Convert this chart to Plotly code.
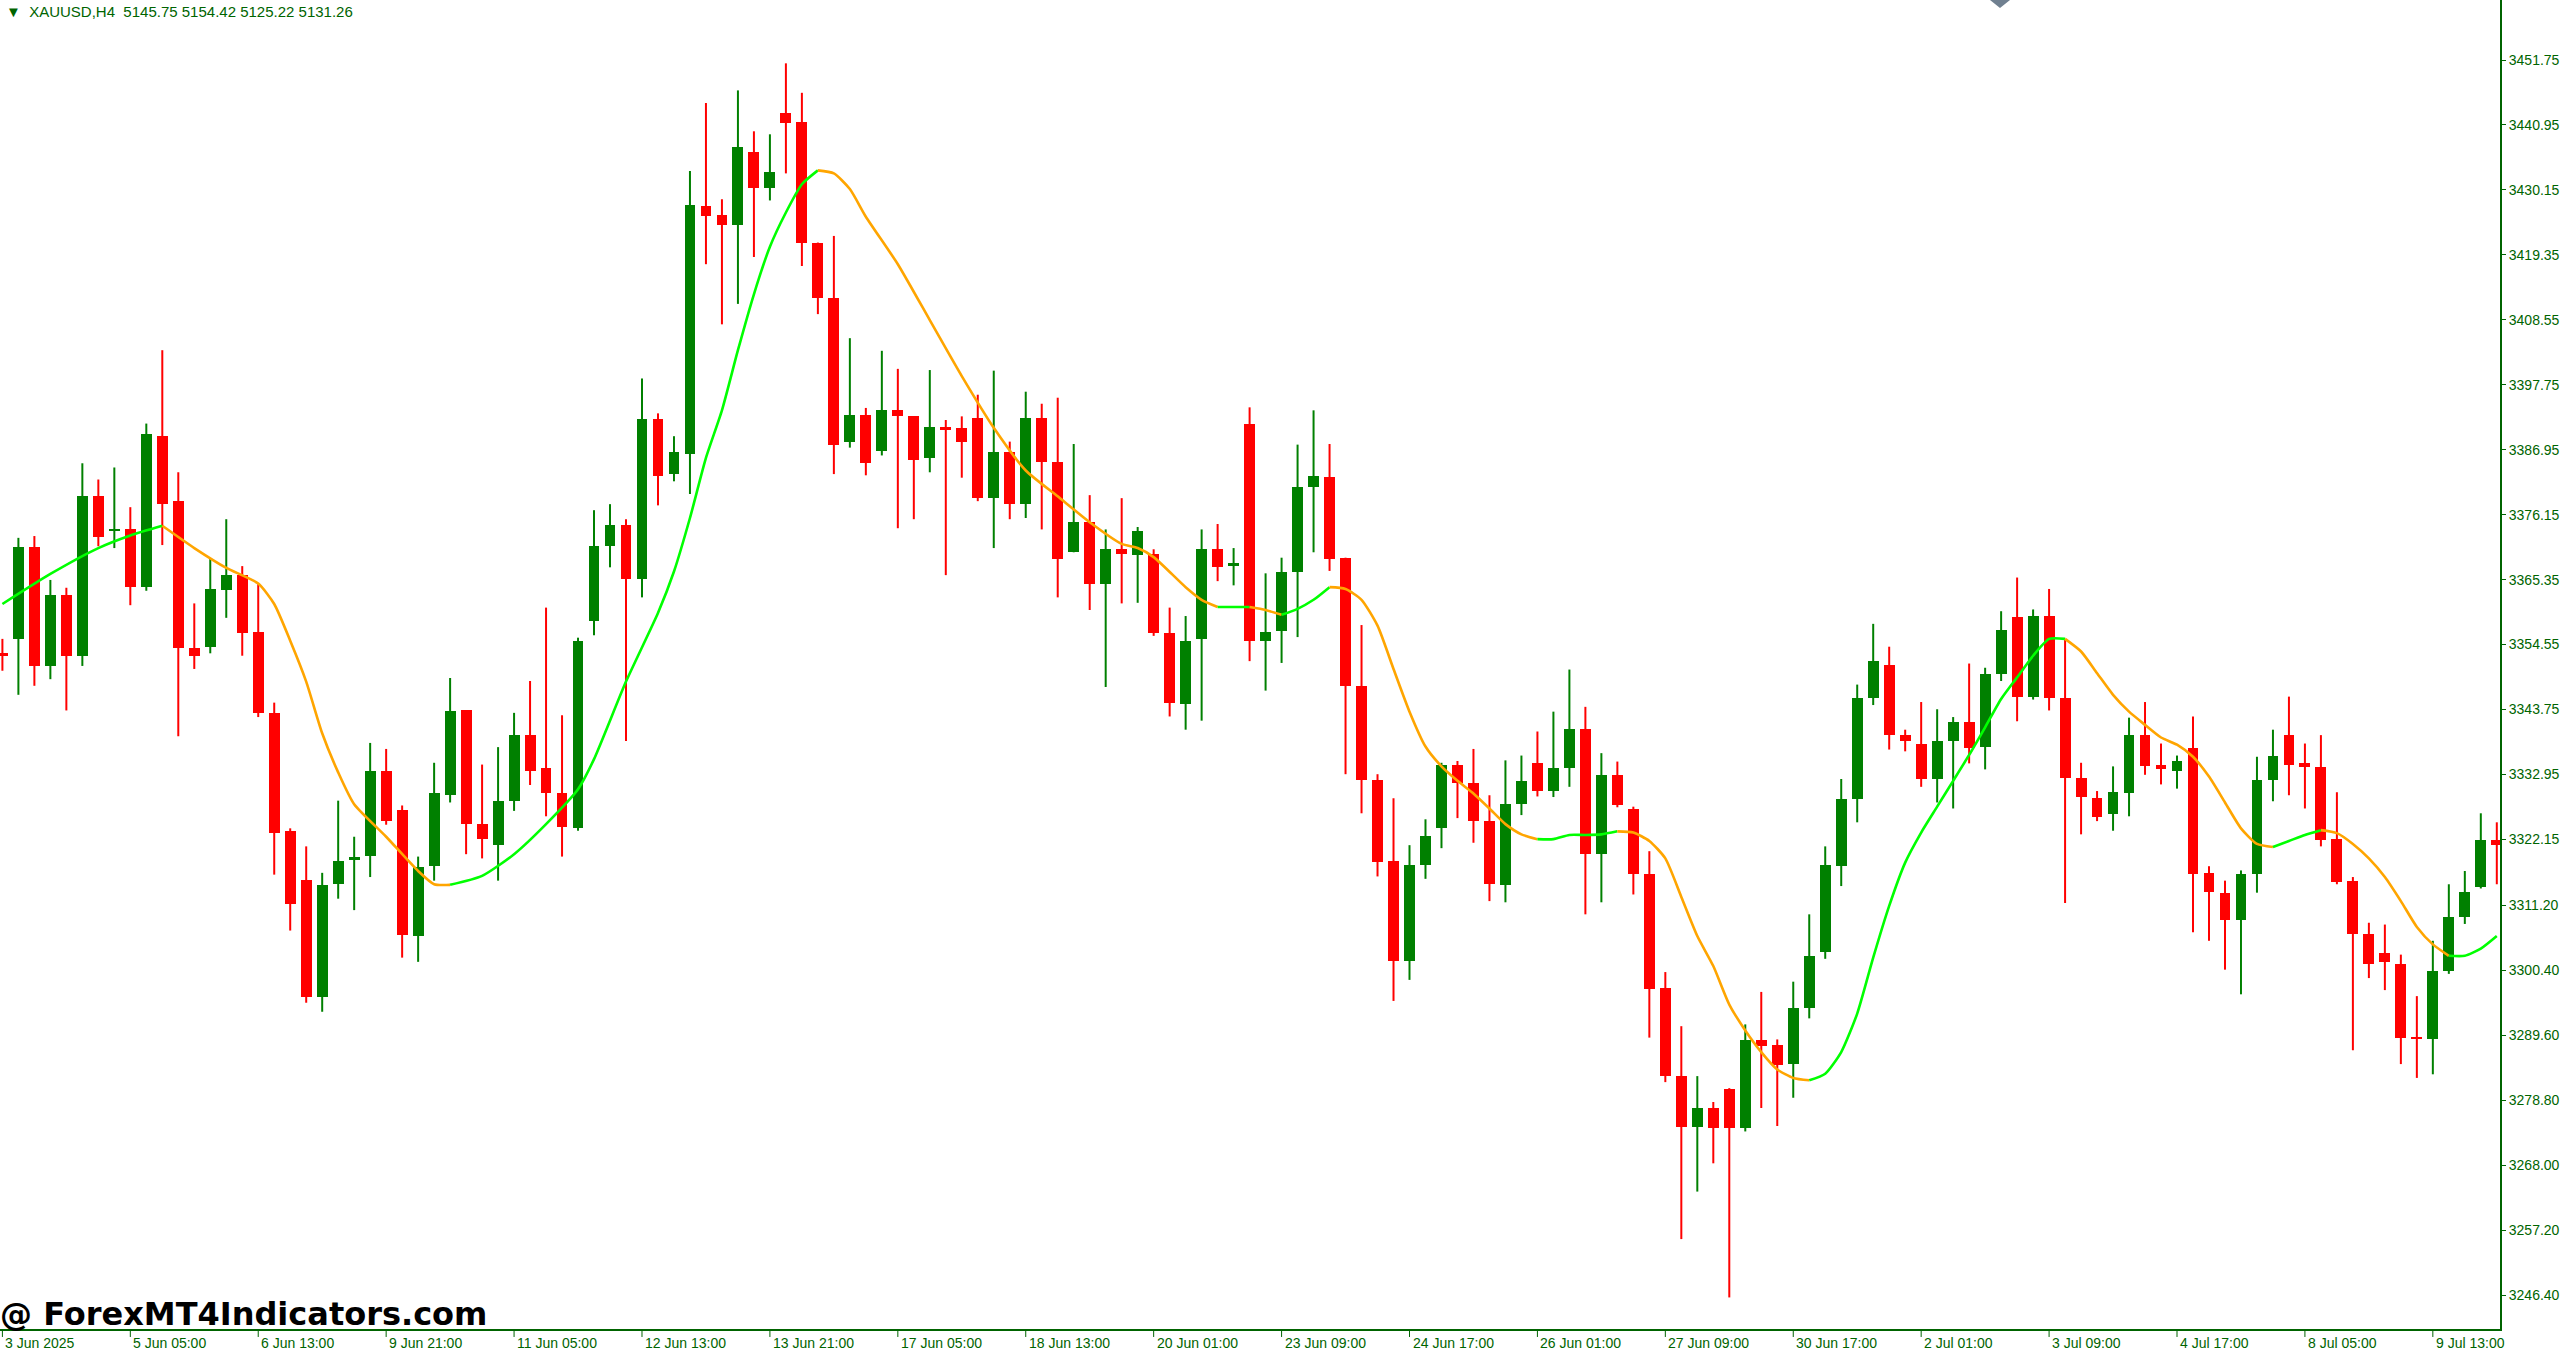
import plotly.graph_objects as go

opens = [3353.1,3355.5,3370.7,3351.0,3362.8,3352.7,3379.2,3373.6,3373.7,3364.1,3389.3,3378.4,3354.0,3354.2,3363.7,3366.1,3356.7,3343.2,3323.5,3315.4,
3296.0,3314.7,3318.7,3319.4,3333.6,3327.0,3306.1,3317.7,3329.6,3343.6,3324.7,3321.2,3328.5,3339.6,3334.1,3329.9,3324.0,3358.5,3371.0,3374.4,
3365.4,3392.0,3382.9,3386.3,3427.4,3426.0,3424.3,3436.4,3430.4,3442.9,3441.5,3421.4,3412.2,3388.2,3392.8,3386.7,3393.6,3392.5,3385.5,3390.8,
3390.5,3392.3,3378.9,3386.6,3378.0,3392.2,3384.9,3369.9,3374.9,3364.6,3370.4,3369.4,3369.6,3356.4,3344.6,3355.4,3370.4,3367.7,3391.3,3355.2,
3356.8,3366.6,3380.7,3382.5,3369.0,3347.7,3332.0,3318.6,3302.0,3317.9,3324.0,3334.6,3331.5,3325.2,3314.6,3328.0,3334.9,3330.2,3334.1,3340.5,
3319.7,3332.8,3327.2,3316.4,3297.4,3282.8,3274.3,3277.5,3280.6,3274.1,3288.8,3287.9,3284.8,3294.1,3303.4,3317.7,3328.8,3345.7,3351.1,3339.5,
3338.1,3332.2,3338.6,3341.6,3337.5,3349.7,3359.1,3345.9,3359.3,3345.7,3332.3,3329.0,3326.3,3329.9,3339.5,3334.5,3333.6,3337.3,3316.6,3313.3,
3308.8,3316.4,3332.0,3339.5,3334.9,3334.2,3322.2,3315.3,3306.4,3303.3,3301.5,3289.4,3288.9,3300.3,3309.3,3314.3,3322.0]
highs = [3355.5,3372.3,3372.6,3365.3,3364.0,3384.7,3382.0,3384.0,3377.4,3391.3,3403.5,3383.2,3361.4,3368.9,3375.4,3367.6,3364.6,3344.9,3324.0,3321.0,
3316.6,3328.6,3322.6,3338.2,3337.2,3327.8,3319.3,3334.9,3349.0,3343.6,3334.6,3337.5,3343.2,3348.5,3360.7,3342.8,3355.7,3376.9,3377.9,3375.4,
3398.8,3393.0,3389.2,3433.3,3444.6,3428.6,3446.7,3439.9,3439.4,3451.2,3446.3,3421.4,3422.5,3405.5,3393.9,3403.4,3400.4,3392.5,3400.2,3391.9,
3392.5,3396.1,3400.1,3388.3,3396.6,3394.6,3395.6,3387.9,3379.4,3373.7,3378.9,3374.1,3370.4,3360.7,3359.3,3373.7,3374.6,3370.6,3394.0,3366.4,
3369.0,3387.8,3393.5,3387.9,3369.0,3357.8,3333.0,3329.0,3321.2,3325.5,3334.9,3335.2,3337.2,3329.5,3335.3,3336.1,3340.1,3343.4,3350.4,3344.2,
3336.5,3335.1,3327.6,3320.2,3300.1,3291.1,3282.8,3278.5,3280.8,3291.4,3296.8,3288.9,3298.5,3309.7,3321.0,3332.2,3347.9,3358.0,3354.2,3340.4,
3345.0,3343.8,3342.5,3351.4,3350.7,3360.1,3365.7,3360.4,3363.8,3355.5,3334.9,3330.2,3334.3,3342.4,3345.0,3338.1,3336.1,3342.6,3317.7,3315.3,
3317.0,3335.9,3340.4,3345.9,3338.1,3339.5,3330.0,3315.9,3308.3,3308.0,3303.0,3296.1,3305.3,3314.7,3316.9,3326.5,3325.0]
lows = [3350.2,3346.2,3347.7,3348.8,3343.6,3351.0,3370.9,3370.6,3361.1,3363.5,3371.1,3339.3,3350.5,3353.1,3359.0,3352.7,3342.5,3316.3,3307.0,3295.0,
3293.5,3312.3,3310.4,3315.9,3324.6,3302.5,3301.8,3315.3,3328.3,3319.7,3319.0,3315.3,3326.9,3331.2,3326.0,3319.3,3323.6,3356.1,3367.4,3338.5,
3362.4,3377.7,3381.7,3379.6,3417.8,3407.8,3411.2,3419.0,3428.4,3432.9,3417.5,3409.5,3382.9,3387.3,3382.7,3386.0,3373.9,3375.4,3383.2,3366.1,
3382.3,3378.4,3370.6,3375.4,3375.6,3373.7,3362.4,3369.9,3360.3,3347.5,3361.4,3361.5,3356.0,3342.6,3340.4,3341.9,3365.1,3364.4,3351.8,3346.9,
3351.5,3355.8,3369.9,3366.8,3333.0,3326.5,3316.0,3295.3,3298.8,3315.6,3320.7,3325.7,3321.6,3311.9,3311.7,3326.2,3329.3,3329.2,3330.9,3309.7,
3311.7,3327.5,3313.0,3289.2,3281.8,3255.7,3263.6,3268.3,3246.0,3273.6,3277.5,3274.5,3279.2,3292.4,3302.3,3314.4,3325.0,3344.5,3337.1,3336.8,
3330.9,3328.3,3327.3,3334.8,3333.8,3348.5,3341.8,3345.4,3343.6,3311.6,3323.0,3325.2,3323.6,3326.0,3332.9,3331.3,3330.6,3306.7,3305.3,3300.5,
3296.4,3313.3,3328.5,3329.5,3327.3,3321.0,3314.7,3287.1,3299.1,3297.1,3284.8,3282.5,3283.1,3299.8,3308.1,3314.0,3314.7]
closes = [3352.9,3370.7,3351.0,3362.8,3352.7,3379.2,3372.4,3373.9,3364.1,3389.5,3378.0,3354.0,3352.7,3363.8,3366.1,3356.5,3343.1,3323.3,3311.4,3296.0,
3314.6,3318.6,3319.3,3333.6,3325.3,3306.3,3317.6,3329.8,3343.5,3324.7,3322.3,3328.6,3339.6,3333.6,3329.9,3324.3,3355.1,3370.9,3374.4,3365.4,
3392.0,3382.6,3386.6,3427.6,3425.8,3424.3,3437.3,3430.4,3433.1,3441.3,3421.4,3412.1,3387.8,3392.8,3384.7,3393.6,3392.6,3385.3,3390.8,3390.3,
3388.3,3378.9,3386.6,3378.0,3392.2,3384.9,3368.8,3374.9,3364.6,3370.4,3369.6,3373.4,3356.4,3344.8,3355.2,3370.4,3367.4,3368.1,3355.2,3356.7,
3366.6,3380.7,3382.6,3368.7,3347.7,3332.0,3318.4,3302.0,3317.9,3322.7,3334.5,3331.5,3325.2,3314.7,3328.0,3331.9,3330.2,3334.1,3340.5,3319.7,
3332.8,3327.8,3316.4,3297.3,3282.8,3274.3,3277.5,3274.1,3274.1,3288.8,3287.8,3284.6,3294.1,3302.8,3317.9,3328.8,3345.7,3351.8,3339.6,3338.6,
3332.2,3338.6,3341.6,3337.3,3349.7,3357.0,3345.9,3359.3,3345.7,3332.3,3329.2,3325.9,3330.0,3339.5,3334.3,3333.9,3335.2,3316.4,3313.4,3308.8,
3316.4,3332.0,3336.1,3334.6,3334.2,3322.0,3315.1,3306.4,3301.4,3301.7,3289.2,3289.1,3300.3,3309.3,3313.4,3322.0,3321.2]

ma_idx = [1,4,7,9,11,13,15,17,18,19,20,21,22,23,25,27,28,29,31,33,35,37,38,40,42,43,44,45,46,47,48,49,50,51,52,53,54,55,57,59,61,63,65,67,69,71,72,73,
75,76,77,78,79,80,81,82,83,84,85,86,87,88,89,90,91,92,93,94,95,96,97,98,99,100,101,102,103,104,105,106,107,108,109,110,111,112,113,114,115,116,
117,118,119,120,121,122,123,124,125,126,127,128,129,130,131,132,133,134,135,136,137,138,139,140,141,142,143,144,145,146,147,148,149,150,151,152,
153,154,155,156,157]
ma_val = [3361.3,3366.3,3370.6,3372.7,3374.3,3370.6,3367.3,3364.7,3361.3,3355.2,3348.4,3339.8,3333.3,3328.0,3322.6,3316.9,3314.7,3314.6,3316.1,3319.7,
3324.7,3330.5,3335.5,3348.4,3359.8,3366.7,3375.6,3385.6,3393.5,3403.5,3412.8,3420.7,3426.4,3431.1,3433.4,3432.9,3430.3,3425.7,3417.8,3408.5,3399.2,
3390.6,3383.5,3379.2,3374.9,3371.3,3370.6,3369.1,3364.1,3362.0,3360.8,3360.8,3360.8,3360.3,3359.5,3360.5,3362.0,3364.1,3363.8,3362.0,3357.7,3350.5,
3343.4,3337.6,3334.3,3331.9,3329.8,3327.3,3324.7,3323.0,3322.2,3322.2,3322.9,3322.9,3323.0,3323.5,3323.3,3321.9,3319.0,3312.6,3306.1,3301.1,3294.7,
3290.4,3286.8,3283.9,3282.5,3282.1,3283.2,3286.8,3293.2,3302.5,3311.1,3318.3,3323.3,3327.6,3331.9,3336.2,3340.8,3345.5,3349.1,3352.7,3355.5,3355.5,
3353.4,3349.8,3346.2,3343.4,3341.2,3339.1,3337.9,3335.9,3332.6,3328.3,3324.0,3321.4,3320.9,3321.9,3322.9,3323.7,3323.2,3321.4,3319.0,3315.9,3311.9,
3307.6,3304.7,3302.8,3302.8,3304.0,3306.1]

x_labels = ["3 Jun 2025","5 Jun 05:00","6 Jun 13:00","9 Jun 21:00","11 Jun 05:00","12 Jun 13:00","13 Jun 21:00","17 Jun 05:00",
"18 Jun 13:00","20 Jun 01:00","23 Jun 09:00","24 Jun 17:00","26 Jun 01:00","27 Jun 09:00","30 Jun 17:00","2 Jul 01:00",
"3 Jul 09:00","4 Jul 17:00","8 Jul 05:00","9 Jul 13:00"]
y_ticks = [3451.75,3440.95,3430.15,3419.35,3408.55,3397.75,3386.95,3376.15,3365.35,3354.55,3343.75,3332.95,3322.15,3311.20,
3300.40,3289.60,3278.80,3268.00,3257.20,3246.40]

UP, DN = "#008000", "#ff0000"
n = len(opens)
xs = list(range(n))
fig = go.Figure()

for up, col in [(True, UP), (False, DN)]:
    sel = [i for i in xs if (closes[i] >= opens[i]) == up]
    wx, wy = [], []
    for i in sel:
        wx += [i, i, None]; wy += [lows[i], highs[i], None]
    fig.add_trace(go.Scatter(x=wx, y=wy, mode="lines", line=dict(color=col, width=2), hoverinfo="skip", showlegend=False))
    fig.add_trace(go.Bar(x=sel, y=[max(abs(closes[i]-opens[i]), 0.35) for i in sel],
                         base=[min(opens[i], closes[i]) - (0.17 if abs(closes[i]-opens[i]) < 0.35 else 0) for i in sel],
                         width=0.68, marker=dict(color=col, line=dict(width=0)), showlegend=False))

mx = [i - 1 for i in ma_idx]
runs = []
for k in range(len(mx) - 1):
    col = "#00ff00" if ma_val[k+1] >= ma_val[k] else "#ffa500"
    if runs and runs[-1][0] == col:
        runs[-1][1].append(k+1)
    else:
        runs.append([col, [k, k+1]])
for col, ks in runs:
    fig.add_trace(go.Scatter(x=[mx[k] for k in ks], y=[ma_val[k] for k in ks], mode="lines",
                             line=dict(color=col, width=2.6, shape="spline", smoothing=0.6),
                             hoverinfo="skip", showlegend=False))

for j, lab in enumerate(x_labels):
    fig.add_annotation(x=j*8, y=0, yref="paper", yshift=-4, text=lab, showarrow=False, xanchor="left", yanchor="top",
                       xshift=1, font=dict(family="Liberation Sans", size=14, color="#006400"))
    fig.add_shape(type="line", x0=j*8, x1=j*8, y0=0, y1=-0.006, yref="paper", line=dict(color="#006400", width=1))

fig.add_annotation(x=0, y=1, xref="paper", yref="paper", xanchor="left", yanchor="top", xshift=4, yshift=-1,
                   text="▼  XAUUSD,H4  5145.75 5154.42 5125.22 5131.26", showarrow=False,
                   font=dict(family="Liberation Sans", size=15, color="#006400"))
fig.add_annotation(x=0, y=0, xref="paper", yref="paper", xanchor="left", yanchor="bottom", xshift=-2, yshift=-6,
                   text="<b>@ ForexMT4Indicators.com</b>", showarrow=False,
                   font=dict(family="DejaVu Sans", size=32, color="#000000"))
fig.add_shape(type="path", xref="paper", yref="paper", path="M 0.796 1 L 0.8 0.994 L 0.804 1 Z",
              fillcolor="#708090", line=dict(width=0))

fig.update_layout(width=2563, height=1351, margin=dict(l=0, r=63, t=0, b=22),
                  paper_bgcolor="white", plot_bgcolor="white", bargap=0, barmode="overlay")
fig.update_xaxes(range=[-0.15, 156.2], showgrid=False, zeroline=False, showticklabels=False, ticks="",
                 showline=True, linecolor="#006400", linewidth=2)
fig.update_yaxes(range=[3240.75, 3461.73], side="right", tickvals=y_ticks, ticktext=[f"{v:.2f}" for v in y_ticks],
                 showgrid=False, zeroline=False, ticks="outside", ticklen=4, tickcolor="#006400",
                 tickfont=dict(family="Liberation Sans", size=14, color="#006400"),
                 showline=True, linecolor="#006400", linewidth=2)
fig.write_html("out.html", config={"displayModeBar": False},
               post_script="document.body.style.margin='0';document.body.style.overflow='hidden';")
